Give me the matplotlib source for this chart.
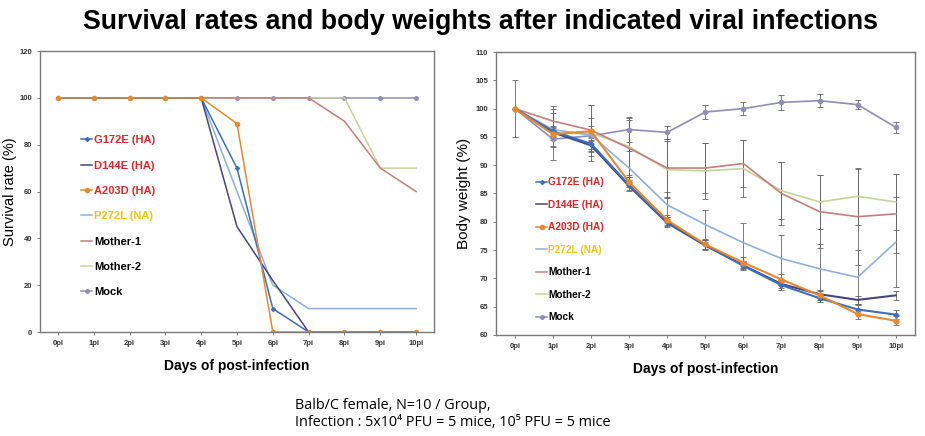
import numpy as np
import matplotlib.pyplot as plt
from matplotlib.lines import Line2D

plt.rcParams['font.family'] = ['Liberation Sans', 'DejaVu Sans']

days = ['0pi', '1pi', '2pi', '3pi', '4pi', '5pi', '6pi', '7pi', '8pi', '9pi', '10pi']
groups = ['G172E (HA)', 'D144E (HA)', 'A203D (HA)', 'P272L (NA)', 'Mother-1', 'Mother-2', 'Mock']

# survival rate (%)
surv_g172e = [100, 100, 100, 100, 100, 70, 10, 0, 0, 0, 0]
surv_d144e = [100, 100, 100, 100, 100, 45, 22, 0, 0, 0, 0]
surv_a203d = [100, 100, 100, 100, 100, 89, 0, 0, 0, 0, 0]
surv_p272l = [100, 100, 100, 100, 100, 60, 20, 10, 10, 10, 10]
surv_mother1 = [100, 100, 100, 100, 100, 100, 100, 100, 90, 70, 60]
surv_mother2 = [100, 100, 100, 100, 100, 100, 100, 100, 100, 70, 70]
surv_mock = [100, 100, 100, 100, 100, 100, 100, 100, 100, 100, 100]

# body weight (%) and error
bw_g172e = [100, 96.0, 93.8, 86.5, 80.0, 76.0, 72.2, 68.8, 66.5, 64.5, 63.6]
bw_d144e = [100, 95.8, 93.5, 86.3, 79.8, 75.8, 72.3, 69.0, 67.2, 66.2, 67.0]
bw_a203d = [100, 95.5, 96.0, 87.0, 80.3, 76.0, 72.8, 69.8, 67.0, 63.7, 62.5]
bw_p272l = [100, 96.3, 95.3, 89.5, 83.0, 79.5, 76.3, 73.5, 71.7, 70.2, 76.4]
bw_mother1 = [100, 97.8, 96.2, 93.0, 89.5, 89.5, 90.3, 85.0, 81.8, 80.9, 81.4]
bw_mother2 = [100, 95.5, 95.7, 93.3, 89.2, 89.0, 89.4, 85.5, 83.5, 84.5, 83.5]
bw_mock = [100, 94.6, 95.2, 96.3, 95.8, 99.4, 100.0, 101.1, 101.4, 100.7, 96.7]

err_g172e = [0, 1.0, 1.0, 0.8, 0.8, 0.8, 0.8, 0.8, 0.7, 0.8, 0.8]
err_d144e = [0, 1.0, 1.0, 0.8, 0.7, 0.7, 0.7, 0.7, 0.7, 0.7, 0.8]
err_a203d = [0, 1.0, 1.0, 0.9, 0.9, 0.8, 0.9, 0.9, 0.8, 0.9, 0.8]
err_p272l = [0, 3.0, 3.0, 3.0, 2.2, 2.6, 3.4, 4.2, 4.4, 4.8, 8.0]
err_mother1 = [0, 2.7, 4.5, 5.0, 5.2, 4.5, 4.2, 5.6, 6.5, 8.5, 7.0]
err_mother2 = [0, 4.5, 5.0, 5.0, 5.0, 5.0, 5.0, 5.0, 4.8, 5.0, 5.0]
err_mock = [5.0, 1.2, 1.0, 2.2, 1.2, 1.3, 1.2, 1.3, 1.2, 0.8, 1.0]

colors = ['#3d6fbd', '#47467e', '#e8892f', '#8eb1dc', '#c47f80', '#c6d49a', '#8e8eb7']
markers = ['D', None, 'o', None, None, None, 'o']
msizes = [2, 0, 3, 0, 0, 0, 2.5]
text_colors = ['#e0262a', '#e0262a', '#e0262a', '#f2c511', 'black', 'black', 'black']

surv = [surv_g172e, surv_d144e, surv_a203d, surv_p272l, surv_mother1, surv_mother2, surv_mock]
bw = [bw_g172e, bw_d144e, bw_a203d, bw_p272l, bw_mother1, bw_mother2, bw_mock]
errs = [err_g172e, err_d144e, err_a203d, err_p272l, err_mother1, err_mother2, err_mock]

x = np.arange(len(days))

fig = plt.figure(figsize=(9.25, 4.36), dpi=100)
ax1 = fig.add_axes([0.0432, 0.2385, 0.426, 0.6445])
ax2 = fig.add_axes([0.536, 0.2317, 0.453, 0.649])

# mock first so the mutants sit on top
order = [6, 5, 4, 3, 1, 0, 2]
for i in order:
    ax1.plot(x, surv[i], color=colors[i], lw=1.1, marker=markers[i], ms=msizes[i])

for i in order:
    ax2.errorbar(x, bw[i], yerr=errs[i], color=colors[i], lw=1.5 if i < 3 else 1.2,
                 marker=markers[i], ms=msizes[i] + 0.5 if markers[i] else 0,
                 ecolor='#666666', elinewidth=0.6, capsize=2, capthick=0.6)

for ax in (ax1, ax2):
    ax.set_xlim(-0.5, 10.5)
    ax.set_xticks(x)
    ax.set_xticklabels(days, fontsize=5.5, fontweight='bold', color='#333333')
    ax.tick_params(axis='both', length=2, width=0.6, color='#666666')
    for s in ax.spines.values():
        s.set_color('#7a7a7a')
        s.set_linewidth(1.0)
    ax.set_xlabel('Days of post-infection', fontsize=10, fontweight='bold', labelpad=9)

ax1.set_ylim(0, 120)
ax1.set_yticks(range(0, 121, 20))
ax1.set_yticklabels([str(v) for v in range(0, 121, 20)], fontsize=5.5,
                    fontweight='bold', color='#333333')
ax1.set_ylabel('Survival rate (%)', fontsize=10.5)
ax1.yaxis.set_label_coords(-0.058, 0.5)

ax2.set_ylim(60, 110)
ax2.set_yticks(range(60, 111, 5))
ax2.set_yticklabels([str(v) for v in range(60, 111, 5)], fontsize=5.5,
                    fontweight='bold', color='#333333')
ax2.set_ylabel('Body weight (%)', fontsize=11, labelpad=3)


def add_legend(ax, fs, anchor, spacing):
    handles = [Line2D([], [], color=colors[i], lw=1.1, marker=markers[i], ms=msizes[i])
               for i in range(len(groups))]
    leg = ax.legend(handles, groups, loc='upper left', bbox_to_anchor=anchor,
                    frameon=False, fontsize=fs, handlelength=1.0, handletextpad=0.15,
                    labelspacing=spacing, borderpad=0, borderaxespad=0)
    for t, c in zip(leg.get_texts(), text_colors):
        t.set_color(c)
        t.set_fontweight('bold')
    return leg


add_legend(ax1, 8, (0.105, 0.70), 1.38)
add_legend(ax2, 7.3, (0.097, 0.557), 1.23)

fig.text(0.519, 0.95, 'Survival rates and body weights after indicated viral infections',
         ha='center', va='center', fontsize=19.3, fontweight='bold')
fig.text(0.319, 0.071, 'Balb/C female, N=10 / Group,', fontsize=10.4, va='center',
         family=['Open Sans', 'DejaVu Sans'])
fig.text(0.319, 0.032, 'Infection : 5x10\u2074 PFU = 5 mice, 10\u2075 PFU = 5 mice',
         fontsize=10.4, va='center', family=['Open Sans', 'DejaVu Sans'])

fig.savefig('out.png', dpi=100)
